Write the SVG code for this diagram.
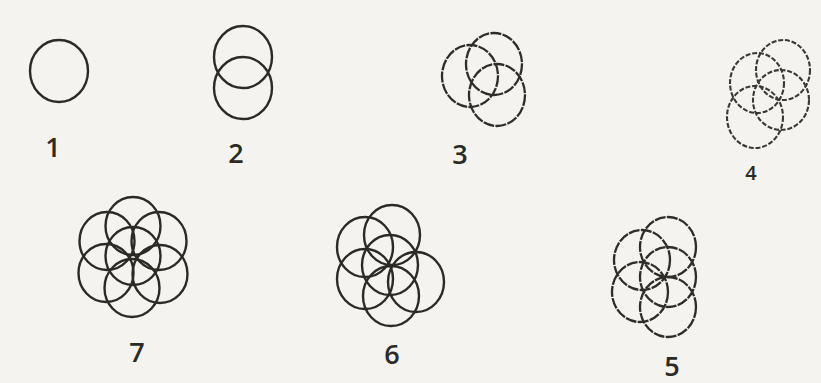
<svg xmlns="http://www.w3.org/2000/svg" width="821" height="383" viewBox="0 0 821 383">
<style>
.c{fill:none;stroke:#2b2a24;stroke-width:2.4}
.d{fill:none;stroke:#2e2d28;stroke-width:2.3;stroke-dasharray:11 1.3}
.f{fill:none;stroke:#3a3933;stroke-width:2.1;stroke-dasharray:5 1.8}
.l{font-family:"Open Sans","Liberation Sans",sans-serif;font-size:27px;font-weight:600;fill:#2b2a24;text-anchor:middle}
</style>
<rect width="821" height="383" fill="#f4f3ef"/>
<g id="fig1">
<ellipse class="c" cx="59" cy="71" rx="29" ry="31"/>
<text class="l" x="53" y="157">1</text>
</g>
<g id="fig2">
<ellipse class="c" cx="243" cy="57" rx="29" ry="31"/>
<ellipse class="c" cx="243" cy="88" rx="29" ry="31"/>
<text class="l" x="236" y="163">2</text>
</g>
<g id="fig3">
<ellipse class="d" cx="470" cy="76" rx="28" ry="31"/>
<ellipse class="d" cx="494" cy="64" rx="28" ry="31"/>
<ellipse class="d" cx="497" cy="95" rx="28" ry="31"/>
<text class="l" x="460" y="164">3</text>
</g>
<g id="fig4">
<ellipse class="f" cx="783" cy="70" rx="27" ry="30"/>
<ellipse class="f" cx="757" cy="83" rx="27" ry="30"/>
<ellipse class="f" cx="781" cy="100" rx="28" ry="30"/>
<ellipse class="f" cx="755" cy="117" rx="28" ry="31"/>
<text class="l" x="751" y="180" style="font-size:20px">4</text>
</g>
<g id="fig5">
<ellipse class="d" cx="668" cy="247" rx="28" ry="30"/>
<ellipse class="d" cx="642" cy="260" rx="28" ry="30"/>
<ellipse class="d" cx="668" cy="277" rx="28" ry="30"/>
<ellipse class="d" cx="640" cy="292" rx="28" ry="30"/>
<ellipse class="d" cx="668" cy="307" rx="28" ry="30"/>
<text class="l" x="672" y="376">5</text>
</g>
<g id="fig6">
<ellipse class="c" cx="392" cy="235" rx="28" ry="30"/>
<ellipse class="c" cx="365" cy="247" rx="28" ry="30"/>
<ellipse class="c" cx="390" cy="265" rx="28" ry="30"/>
<ellipse class="c" cx="416" cy="282" rx="28" ry="30"/>
<ellipse class="c" cx="365" cy="279" rx="28" ry="30"/>
<ellipse class="c" cx="391" cy="296" rx="28" ry="30"/>
<text class="l" x="392" y="364">6</text>
</g>
<g id="fig7">
<ellipse class="c" cx="133" cy="226" rx="27.5" ry="29"/>
<ellipse class="c" cx="107" cy="241" rx="27.5" ry="29"/>
<ellipse class="c" cx="159" cy="241" rx="27.5" ry="29"/>
<ellipse class="c" cx="133" cy="256" rx="27.5" ry="29"/>
<ellipse class="c" cx="106" cy="273" rx="27.5" ry="29"/>
<ellipse class="c" cx="160" cy="274" rx="27.5" ry="29"/>
<ellipse class="c" cx="132" cy="288" rx="27.5" ry="29"/>
<text class="l" x="137" y="362">7</text>
</g>
<g id="connectors"/>
</svg>
